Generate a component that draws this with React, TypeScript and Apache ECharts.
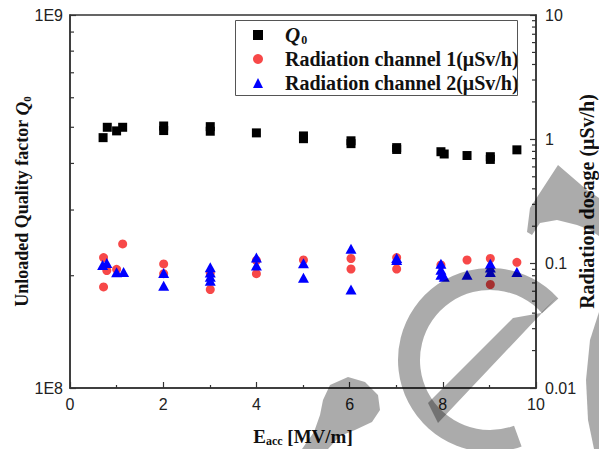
import React, { useEffect, useRef } from 'react';
import * as echarts from 'echarts';

// E_acc [MV/m], Q0
const q0Data: [number, number][] = [
  [0.71, 4.69e8], [0.80, 5.0e8], [1.0, 4.89e8], [1.13, 5.0e8],
  [2.01, 5.04e8], [2.01, 4.9e8], [3.01, 5.02e8], [3.01, 4.88e8],
  [4.0, 4.83e8], [5.01, 4.74e8], [5.01, 4.66e8], [6.03, 4.6e8], [6.03, 4.52e8],
  [7.01, 4.41e8], [7.01, 4.36e8], [7.96, 4.3e8], [8.03, 4.24e8], [8.52, 4.2e8],
  [9.02, 4.17e8], [9.02, 4.1e8], [9.59, 4.35e8],
];

// E_acc [MV/m], radiation channel 1 (μSv/h)
const rad1Data: [number, number][] = [
  [0.72, 0.112], [0.72, 0.065], [0.79, 0.088], [1.0, 0.09], [1.13, 0.144],
  [2.01, 0.0995], [2.01, 0.083], [3.01, 0.084], [3.01, 0.062],
  [4.0, 0.106], [4.0, 0.083], [5.01, 0.107], [6.03, 0.11], [6.03, 0.0906],
  [7.01, 0.112], [7.01, 0.0906], [7.96, 0.0977], [8.52, 0.107],
  [9.02, 0.11], [9.02, 0.068], [9.59, 0.1026],
];

// E_acc [MV/m], radiation channel 2 (μSv/h)
const rad2Data: [number, number][] = [
  [0.7, 0.0977], [0.79, 0.1013], [1.0, 0.0853], [1.15, 0.0858],
  [2.01, 0.084], [2.01, 0.0665], [3.01, 0.0935], [3.01, 0.085], [3.01, 0.0785], [3.01, 0.073],
  [4.0, 0.112], [4.0, 0.0965], [5.01, 0.101], [5.01, 0.077], [6.03, 0.132], [6.03, 0.062],
  [7.01, 0.111], [7.01, 0.107], [7.96, 0.1], [7.96, 0.0892], [7.96, 0.0816], [8.03, 0.0785],
  [8.52, 0.0816], [9.02, 0.1], [9.02, 0.093], [9.02, 0.0858], [9.59, 0.0858],
];

const seriesNames = ['Q0', 'Radiation channel 1(μSv/h)', 'Radiation channel 2(μSv/h)'];
const leftTickLabels: Record<number, string> = { 8: '1E8', 9: '1E9' };
const rightTickLabels: Record<number, string> = { [-2]: '0.01', [-1]: '0.1', 0: '1', 1: '10' };
const leftMinorDecades = [8];
const rightMinorDecades = [-2, -1, 0];

export default function App() {
  const ref = useRef<HTMLDivElement>(null);
  useEffect(() => {
    const chart = echarts.init(ref.current!, null, { renderer: 'svg' });
    const serif = "'Liberation Serif', 'Times New Roman', serif";
    const sans = "'Liberation Sans', Arial, sans-serif";
    const axisColor = '#333';
    const labelColor = '#222';
    const gridL = 70, gridR = 63, gridT = 15, gridB = 61;
    const W = 599;

    const option: any = {
      animation: false,
      backgroundColor: '#fff',
      grid: {
        left: gridL, right: gridR, top: gridT, bottom: gridB,
        outerBoundsMode: 'none', containLabel: false,
        show: true, borderColor: axisColor, borderWidth: 1.5, backgroundColor: 'transparent',
      },
      legend: {
        orient: 'vertical', left: 253, top: 23, padding: 0, itemGap: 0,
        itemWidth: 10, itemHeight: 10,
        data: seriesNames,
        formatter: (n: string) => (n === 'Q0' ? '{q|Q}{s|0}' : n),
        textStyle: {
          fontFamily: serif, fontWeight: 'bold', fontSize: 20, color: '#111', lineHeight: 24,
          padding: [0, 0, 0, 17],
          rich: {
            q: { fontFamily: serif, fontWeight: 'bold', fontStyle: 'italic', fontSize: 21, lineHeight: 24, color: '#111' },
            s: { fontFamily: serif, fontWeight: 'bold', fontSize: 12, lineHeight: 24, padding: [10, 0, 0, 1], color: '#111' },
          },
        },
      },
      xAxis: {
        type: 'value', min: 0, max: 10, interval: 2,
        axisLine: { show: true, onZero: false, lineStyle: { color: axisColor, width: 1.5 } },
        axisTick: { show: true, inside: true, length: 6, lineStyle: { color: axisColor, width: 1.2 } },
        minorTick: { show: true, splitNumber: 2, length: 3, lineStyle: { color: axisColor, width: 1.2 } },
        splitLine: { show: false },
        axisLabel: { fontFamily: sans, fontSize: 16, color: labelColor, margin: 8 },
        name: '{e|E}{s|acc}{e| [MV/m]}',
        nameLocation: 'middle', nameGap: 38, nameMoveOverlap: false,
        nameTextStyle: {
          rich: {
            e: { fontFamily: serif, fontWeight: 'bold', fontSize: 19, color: '#111' },
            s: { fontFamily: serif, fontWeight: 'bold', fontSize: 12, color: '#111', padding: [9, 0, 0, 0] },
          },
        },
      },
      yAxis: [
        {
          type: 'log', logBase: 10, min: 1e8, max: 1e9, position: 'left',
          axisLine: { show: true, lineStyle: { color: axisColor, width: 1.5 } },
          axisTick: { show: true, inside: true, length: 6, lineStyle: { color: axisColor, width: 1.2 } },
          splitLine: { show: false },
          axisLabel: {
            fontFamily: sans, fontSize: 16, color: labelColor, margin: 7,
            formatter: (v: number) => leftTickLabels[Math.round(Math.log10(v))] ?? '',
          },
          name: 'Unloaded Quality factor {q|Q}{s|0}',
          nameLocation: 'middle', nameGap: 38, nameMoveOverlap: false,
          nameTextStyle: {
            fontFamily: serif, fontWeight: 'bold', fontSize: 18, color: '#111',
            rich: {
              q: { fontFamily: serif, fontWeight: 'bold', fontStyle: 'italic', fontSize: 19, color: '#111' },
              s: { fontFamily: serif, fontWeight: 'bold', fontSize: 11, color: '#111', padding: [9, 0, 0, 0] },
            },
          },
        },
        {
          type: 'log', logBase: 10, min: 0.01, max: 10, position: 'right',
          axisLine: { show: true, lineStyle: { color: axisColor, width: 1.5 } },
          axisTick: { show: true, inside: true, length: 6, lineStyle: { color: axisColor, width: 1.2 } },
          splitLine: { show: false },
          axisLabel: {
            fontFamily: sans, fontSize: 16, color: labelColor, margin: 9,
            formatter: (v: number) => rightTickLabels[Math.round(Math.log10(v))] ?? '',
          },
          name: 'Radiation dosage (μSv/h)',
          nameLocation: 'middle', nameGap: 41, nameMoveOverlap: false,
          nameTextStyle: { fontFamily: serif, fontWeight: 'bold', fontSize: 20, color: '#111' },
        },
      ],
      series: [
        {
          name: seriesNames[0], type: 'scatter', yAxisIndex: 0, data: q0Data,
          symbol: 'rect', symbolSize: 9, itemStyle: { color: '#000', opacity: 1 },
        },
        {
          name: seriesNames[1], type: 'scatter', yAxisIndex: 1, data: rad1Data,
          symbol: 'circle', symbolSize: 9, itemStyle: { color: '#f74848', opacity: 1 },
        },
        {
          name: seriesNames[2], type: 'scatter', yAxisIndex: 1, data: rad2Data,
          symbol: 'triangle', symbolSize: [11, 10], itemStyle: { color: '#0000ff', opacity: 1 },
        },
      ],
    };
    chart.setOption(option);

    const g: any[] = [];
    const xL = gridL, xR = W - gridR;
    const tick = (x1: number, x2: number, y: number) => ({
      type: 'line', silent: true, z: 50,
      shape: { x1, y1: y, x2, y2: y },
      style: { stroke: axisColor, lineWidth: 1.2 },
    });
    leftMinorDecades.forEach((d) => {
      for (let m = 2; m <= 9; m++) {
        const y = chart.convertToPixel({ yAxisIndex: 0 }, m * Math.pow(10, d)) as number;
        g.push(tick(xL, xL + 4, y));
      }
    });
    rightMinorDecades.forEach((d) => {
      for (let m = 2; m <= 9; m++) {
        const y = chart.convertToPixel({ yAxisIndex: 1 }, m * Math.pow(10, d)) as number;
        g.push(tick(xR - 4, xR, y));
      }
    });
    // legend frame
    g.push({
      type: 'rect', silent: true, z: 40,
      shape: { x: 235.5, y: 20.5, width: 282, height: 75 },
      style: { fill: 'none', stroke: '#555', lineWidth: 1 },
    });
    // watermark
    const wm = { fill: 'rgba(0,0,0,0.33)' };
    g.push({
      type: 'sector', silent: true, z: 100,
      shape: { cx: 490, cy: 360, r: 92, r0: 70, startAngle: 1.22, endAngle: 5.55, clockwise: true },
      style: wm,
    });
    g.push({
      type: 'polygon', silent: true, z: 100,
      shape: { points: [[557, 297], [541, 313], [513, 318], [428, 403], [438, 423]] },
      style: wm,
    });
    g.push({
      type: 'polygon', silent: true, z: 100,
      shape: {
        points: [[558, 165], [587, 190], [599, 198], [599, 236], [590, 230], [577, 225], [557, 220],
          [540, 223], [532, 235], [527, 232], [530, 208]],
      },
      style: wm,
    });
    g.push({
      type: 'polygon', silent: true, z: 100,
      shape: { points: [[599, 312], [590, 340], [586, 380], [588, 420], [594, 449], [599, 449]] },
      style: wm,
    });
    g.push({
      type: 'polygon', silent: true, z: 100,
      shape: {
        points: [[348, 377], [365, 382], [378, 395], [380, 410], [372, 422], [355, 430], [340, 436],
          [328, 449], [302, 449], [314, 432], [320, 415], [323, 400], [330, 385]],
      },
      style: wm,
    });
    chart.setOption({ graphic: g });
    return () => chart.dispose();
  }, []);
  return (
    <div
      ref={ref}
      style={{ position: 'fixed', left: 0, top: 0, width: 599, height: 449, background: '#fff' }}
    />
  );
}
